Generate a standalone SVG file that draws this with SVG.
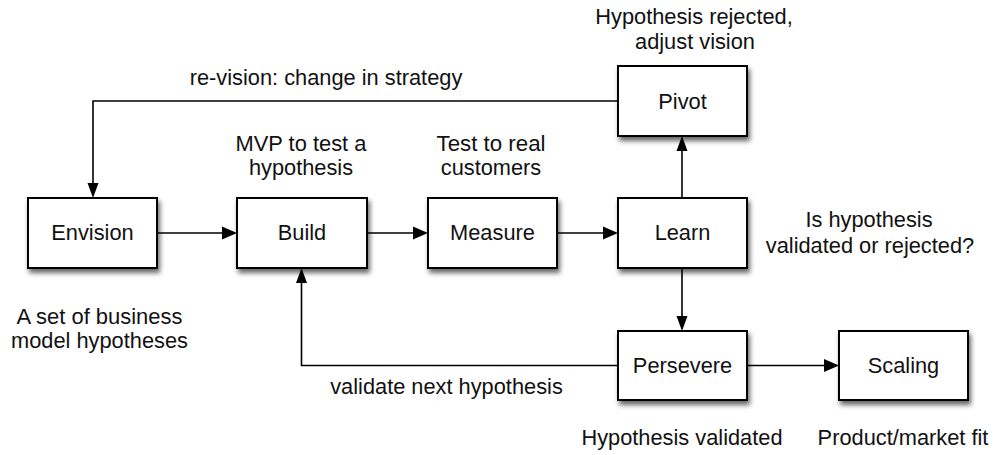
<svg xmlns="http://www.w3.org/2000/svg" width="994" height="455" viewBox="0 0 994 455">
<style>
text{font-family:"Liberation Sans",Arial,Helvetica,sans-serif;font-size:21.6px;fill:#111;text-anchor:middle}
.box{fill:#fff;stroke:#000;stroke-width:2;filter:url(#sh)}
.ln{fill:none;stroke:#000;stroke-width:1.6}
.ah{fill:#000;stroke:none}
</style>
<defs>
<filter id="sh" x="-20%" y="-20%" width="150%" height="160%">
<feDropShadow dx="2" dy="4" stdDeviation="2.5" flood-color="#000" flood-opacity="0.6"/>
</filter>
</defs>
<g id="connectors">
<path class="ln" d="M157,233H224"/><path class="ah" d="M237,233l-15,-6.5v13z"/>
<path class="ln" d="M367,233H415"/><path class="ah" d="M428,233l-15,-6.5v13z"/>
<path class="ln" d="M557,233H605"/><path class="ah" d="M618,233l-15,-6.5v13z"/>
<path class="ln" d="M682,198V149"/><path class="ah" d="M682,136l-5.5,15h11z"/>
<path class="ln" d="M682,268V318"/><path class="ah" d="M682,331l-5.5,-15h11z"/>
<path class="ln" d="M747,365.5H826"/><path class="ah" d="M839,365.5l-15,-6.5v13z"/>
<path class="ln" d="M618,365.5H301.5V281"/><path class="ah" d="M301.5,268l-5.5,15h11z"/>
<path class="ln" d="M618,101H93V185"/><path class="ah" d="M93,198l-5.5,-15h11z"/>
<text x="326" y="85" textLength="272.6" lengthAdjust="spacingAndGlyphs">re-vision: change in strategy</text>
<text x="446.5" y="394" textLength="232.6" lengthAdjust="spacingAndGlyphs">validate next hypothesis</text>
</g>
<g id="envision">
<rect class="box" x="28" y="198" width="129" height="70"/>
<text x="92.5" y="240.3" textLength="82.4" lengthAdjust="spacingAndGlyphs">Envision</text>
<text x="99.5" y="324" textLength="166" lengthAdjust="spacingAndGlyphs">A set of business</text>
<text x="99.5" y="347.5" textLength="176.9" lengthAdjust="spacingAndGlyphs">model hypotheses</text>
</g>
<g id="build">
<rect class="box" x="237" y="198" width="130" height="70"/>
<text x="302" y="240.3" textLength="48.5" lengthAdjust="spacingAndGlyphs">Build</text>
<text x="301" y="151" textLength="130.9" lengthAdjust="spacingAndGlyphs">MVP to test a</text>
<text x="301" y="174.5" textLength="104.2" lengthAdjust="spacingAndGlyphs">hypothesis</text>
</g>
<g id="measure">
<rect class="box" x="428" y="198" width="129" height="70"/>
<text x="492.5" y="240.3" textLength="84.8" lengthAdjust="spacingAndGlyphs">Measure</text>
<text x="491" y="151" textLength="109" lengthAdjust="spacingAndGlyphs">Test to real</text>
<text x="491" y="174.5" textLength="100.5" lengthAdjust="spacingAndGlyphs">customers</text>
</g>
<g id="learn">
<rect class="box" x="618" y="198" width="129" height="70"/>
<text x="682.5" y="240.3" textLength="55.7" lengthAdjust="spacingAndGlyphs">Learn</text>
<text x="869" y="226.5" textLength="127.2" lengthAdjust="spacingAndGlyphs">Is hypothesis</text>
<text x="870" y="252.5" textLength="208.4" lengthAdjust="spacingAndGlyphs">validated or rejected?</text>
</g>
<g id="pivot">
<rect class="box" x="618" y="66" width="129" height="70"/>
<text x="682.5" y="108.5" textLength="48.5" lengthAdjust="spacingAndGlyphs">Pivot</text>
<text x="694" y="23.5" textLength="197.5" lengthAdjust="spacingAndGlyphs">Hypothesis rejected,</text>
<text x="695" y="49.3" textLength="119.9" lengthAdjust="spacingAndGlyphs">adjust vision</text>
</g>
<g id="persevere">
<rect class="box" x="618" y="331" width="129" height="69"/>
<text x="682.5" y="373" textLength="99.3" lengthAdjust="spacingAndGlyphs">Persevere</text>
<text x="682" y="445" textLength="201.1" lengthAdjust="spacingAndGlyphs">Hypothesis validated</text>
</g>
<g id="scaling">
<rect class="box" x="839" y="331" width="129" height="69"/>
<text x="903.5" y="373" textLength="71.5" lengthAdjust="spacingAndGlyphs">Scaling</text>
<text x="903" y="445" textLength="170.8" lengthAdjust="spacingAndGlyphs">Product/market fit</text>
</g>
</svg>
